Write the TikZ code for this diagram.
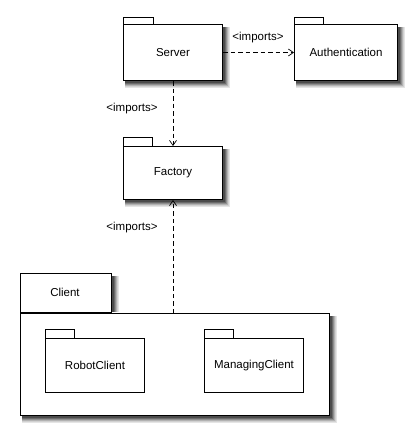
\documentclass[tikz,border=0pt]{standalone}
\usepackage{fontspec}
\setmainfont{Liberation Sans}
\usetikzlibrary{arrows.meta}
\definecolor{sh1}{gray}{0.90}
\definecolor{sh2}{gray}{0.82}
\definecolor{sh3}{gray}{0.70}
\definecolor{sh4}{gray}{0.56}
\definecolor{sh5}{gray}{0.42}
\definecolor{sh6}{gray}{0.30}
\tikzset{
  x=1pt,y=-1pt,
  every node/.style={font=\fontsize{11.5}{13}\selectfont},
  pkg/.style={draw=black,line width=1pt,fill=white,anchor=north west,inner sep=0pt},
  tab/.style={draw=black,line width=1pt,fill=white},
  dep/.style={draw=black,line width=0.7pt,dash pattern=on 4.5pt off 3pt,-{Straight Barb[length=5pt,width=7pt,line width=0.7pt]}},
  lbl/.style={inner sep=1pt}
}
% soft shadow along the right and bottom sides of node #1
\newcommand{\pkgshadow}[1]{%
  \foreach \dd/\cc in {7/sh1,6/sh2,5/sh3,4/sh4,3/sh5,2/sh6}{%
    \draw[line width=\dd pt,draw=\cc,line cap=butt,line join=miter]
      ([xshift=\dd/2*1pt,yshift=-3pt]#1.north east) --
      ([xshift=\dd/2*1pt,yshift=-\dd/2*1pt]#1.south east) --
      ([xshift=2pt,yshift=-\dd/2*1pt]#1.south west);}}
% right side only (tab standing on the Client body)
\newcommand{\tabshadow}[1]{%
  \foreach \dd/\cc in {7/sh1,6/sh2,5/sh3,4/sh4,3/sh5,2/sh6}{%
    \draw[line width=\dd pt,draw=\cc,line cap=butt]
      ([xshift=\dd/2*1pt,yshift=-3pt]#1.north east) --
      ([xshift=\dd/2*1pt,yshift=1pt]#1.south east);}}
\begin{document}
\begin{tikzpicture}
\useasboundingbox (0,0) rectangle (414,439);
\coordinate (serverNW) at (123,24);
\coordinate (authNW) at (294,24);
\coordinate (factoryNW) at (123,146);
\coordinate (clientNW) at (20,313);
\coordinate (robotNW) at (45,338);
\coordinate (managingNW) at (204,338);
% Server
\draw[tab] (serverNW) rectangle ++(30,-7);
\node[pkg,minimum width=99pt,minimum height=56pt] (server) at (serverNW) {Server};
% Authentication
\draw[tab] (authNW) rectangle ++(29,-7);
\node[pkg,minimum width=103pt,minimum height=56pt] (auth) at (authNW) {Authentication};
% Factory
\draw[tab] (factoryNW) rectangle ++(29,-9);
\node[pkg,minimum width=99pt,minimum height=53pt] (factory) at (factoryNW) {Factory};
% Client
\node[tab,anchor=south west,minimum width=91pt,minimum height=39pt,inner sep=0pt] (clienttab) at (clientNW) {};
\node[pkg,minimum width=309pt,minimum height=102pt] (client) at (clientNW) {};
\node (clientlbl) at ([xshift=-1pt,yshift=1pt]clienttab.center) {Client};
% RobotClient
\draw[tab] (robotNW) rectangle ++(29,-9);
\node[pkg,minimum width=99pt,minimum height=54pt] (robot) at (robotNW) {RobotClient};
% ManagingClient
\draw[tab] (managingNW) rectangle ++(29,-9);
\node[pkg,minimum width=99pt,minimum height=54pt] (managing) at (managingNW) {ManagingClient};
% shadows
\pkgshadow{server}
\pkgshadow{auth}
\pkgshadow{factory}
\pkgshadow{client}
\tabshadow{clienttab}
% dependencies
\draw[dep] (server) -- (auth);
\draw[dep] (server.south) -- (factory.north);
\draw[dep] (factory.south |- client.north) -- (factory.south);
\node[lbl] (l1) at (258,38) {\textless imports\textgreater};
\node[lbl] (l2) at (132,109) {\textless imports\textgreater};
\node[lbl] (l3) at (132,228) {\textless imports\textgreater};
\end{tikzpicture}
\end{document}
